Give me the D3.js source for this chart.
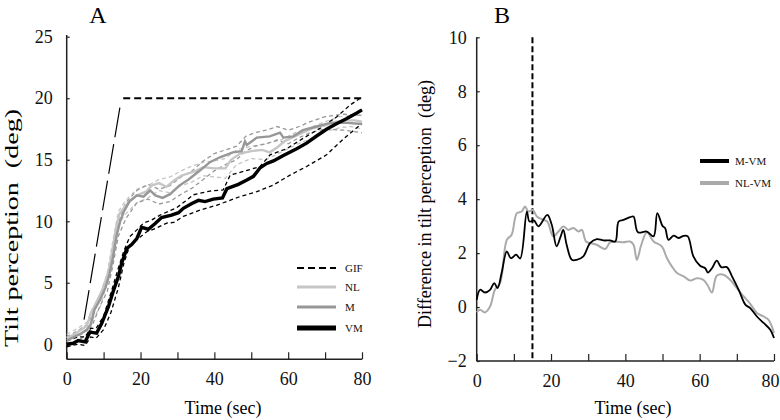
<!DOCTYPE html>
<html>
<head>
<meta charset="utf-8">
<script src="https://cdn.jsdelivr.net/npm/d3@7"></script>
<style>
  body { margin: 0; background: #fff; }
  svg { display: block; font-family: "Liberation Serif", "DejaVu Serif", serif; }
  svg text { font-family: "Liberation Serif", "DejaVu Serif", serif; }
</style>
</head>
<body>
<svg id="chart" width="780" height="420"></svg>
<script>
// ---------- DATA (panel A) ----------
const xTicksA = [0, 10, 20, 30, 40, 50, 60, 70, 80];
const xLabelsA = [0, 20, 40, 60, 80];
const yTicksA = [0, 5, 10, 15, 20, 25];

const gifRamp = [[4.7, 2.0], [14.5, 19.4]];
const gifFlat = [[15.3, 20], [80, 20]];

const nlMain = [[0,0.5],[2,0.8],[4,1.2],[5.5,1.5],[6.5,2.5],[8,3.4],[9.5,4.3],[10.8,5.4],[11.7,6.4],[12.5,7.9],[13.4,9.5],[14.3,10.6],[15.8,11.2],[17.2,11.7],[19,12.1],[21.5,12.4],[23,12.9],[25,13.1],[27,12.8],[29,13.3],[31,13.7],[33,13.9],[35,14.1],[37,14.4],[40,14.3],[43,14.3],[44.5,15.0],[47,15.5],[50,15.7],[53,15.8],[55,15.6],[57,16.0],[59,16.5],[61,16.8],[64,17.2],[67,17.6],[70,17.8],[73,18.1],[76,18.2],[78,18.2],[80,18.1]];
const nlUpper = [[0,0.8],[3,1.3],[5.5,1.8],[7,2.9],[9,4.0],[11,5.8],[12.5,8.4],[14,10.8],[16,11.7],[19,12.6],[22,12.9],[25,13.4],[28,13.6],[31,14.1],[34,14.5],[37,14.8],[40,14.9],[43,15.1],[46,15.8],[50,16.1],[54,16.3],[58,16.6],[62,17.2],[66,17.6],[70,18.1],[74,18.5],[77,18.6],[80,18.6]];
const nlLower = [[0,0.2],[3,0.6],[5.5,1.1],[7,2.0],[9,3.0],[11,5.0],[12.5,7.2],[14,9.8],[16,10.6],[19,11.5],[22,11.9],[25,12.5],[28,12.3],[31,12.9],[34,13.2],[37,13.7],[40,13.6],[43,13.5],[46,14.6],[50,15.1],[54,15.0],[58,15.6],[62,16.2],[66,16.7],[70,17.3],[74,17.6],[77,17.7],[80,17.5]];

const mMain = [[0,0.3],[2,0.6],[4,0.9],[5.5,1.2],[6.5,1.6],[7.5,2.8],[9,3.6],[10.5,4.6],[11.5,5.6],[12.5,7.0],[13.5,8.8],[14.5,10.0],[15.5,10.8],[17,11.6],[19,12.1],[20.8,12.0],[22.6,12.5],[24,12.1],[26,11.9],[28,12.2],[30.5,12.9],[33,13.4],[36,14.1],[38.8,14.8],[41.5,15.2],[45,15.6],[47.4,15.7],[48.3,16.5],[48.8,16.2],[51.5,16.8],[55,16.9],[57.8,17.2],[58.7,16.8],[61.4,16.9],[64,17.4],[67.7,17.7],[71.4,18.0],[76,18.0],[80,17.9]];
const mUpper = [[0,0.6],[3,1.1],[5.5,1.6],[7,2.4],[9,4.0],[11,5.3],[12.5,7.5],[14,9.9],[16,11.5],[19,12.5],[22,13.0],[25,12.6],[28,12.9],[31,13.6],[34,14.1],[37,14.9],[40,15.5],[43,15.8],[46,16.1],[48.5,16.9],[51,17.2],[54,17.4],[57,17.7],[60,17.4],[63,17.7],[66,18.1],[70,18.5],[75,18.7],[80,18.6]];
const mLower = [[0,0.0],[3,0.3],[5.5,0.8],[7,1.6],[9,3.1],[11,4.3],[12.5,6.4],[14,8.8],[16,10.2],[19,11.5],[22,11.8],[25,11.4],[28,11.6],[31,12.2],[34,12.7],[37,13.4],[40,14.1],[43,14.6],[46,15.0],[48.5,15.7],[51,16.1],[54,16.3],[57,16.6],[60,16.3],[63,16.8],[66,17.2],[70,17.5],[75,17.4],[80,17.2]];

const vmMain = [[0,0],[1.8,0.08],[3.1,0.3],[5,0.2],[6.3,1.0],[7.2,0.95],[8.1,0.9],[9.5,1.7],[11.3,3.06],[12.6,4.3],[14,5.5],[14.9,6.6],[16.3,7.8],[17.6,8.1],[19,8.6],[20.3,9.5],[22.1,9.35],[23.9,9.8],[25.7,10.3],[28.4,10.5],[30.3,10.7],[31.6,11.05],[33.9,11.45],[35.7,11.7],[37.5,11.6],[39.7,11.8],[42.2,11.9],[43.4,12.65],[46.5,13.0],[48.8,13.35],[50.6,13.65],[52.4,14.35],[54.2,14.7],[56,14.9],[58.7,15.35],[62.3,15.9],[65,16.35],[67.8,16.95],[70.5,17.5],[73.2,17.95],[75.9,18.35],[78.6,18.8],[80,19.05]];
const vmUpper = [[0,0.3],[3,0.6],[5,0.6],[6.5,1.3],[8,1.3],[10,2.3],[12,4.2],[14,6.2],[15.5,7.6],[17.1,8.75],[19,9.3],[20.8,9.85],[23,10.1],[25.3,10.5],[27.5,10.8],[29.8,11.1],[32,11.6],[34.3,12.15],[38.8,12.45],[42.4,12.55],[44.3,13.75],[47.9,14.05],[52.4,14.45],[55.1,15.4],[59.6,15.9],[64.1,16.75],[68.6,17.55],[73.2,18.5],[76.8,19.45],[80,20.1]];
const vmLower = [[0,-0.2],[3,0.0],[5,-0.1],[6.5,0.6],[8,0.5],[10,1.2],[12,2.6],[14,4.6],[15.5,6.6],[17.1,8.05],[19,8.5],[21.7,9.15],[24,9.4],[27.1,9.85],[29,9.9],[31.6,10.4],[36.1,10.9],[40.6,11.3],[43.3,11.6],[46.9,12.0],[51.5,12.4],[56,12.95],[60.5,13.75],[65,14.45],[70.4,15.4],[75,16.7],[80,17.95]];

const legendA = ["GIF", "NL", "M", "VM"];

// ---------- DATA (panel B) ----------
const xTicksB = [0, 10, 20, 30, 40, 50, 60, 70, 80];
const xLabelsB = [0, 20, 40, 60, 80];
const yTicksB = [-2, 0, 2, 4, 6, 8, 10];
const stimEnd = 15;

const mvm = [[0,0.27],[0.9,0.64],[2.2,0.54],[3.6,0.64],[4.7,0.89],[5.6,0.7],[6.7,1.26],[8.1,2.06],[9.2,1.81],[10.6,1.94],[11.7,1.8],[13.5,3.54],[14.2,3.17],[15.4,3.21],[16.6,2.99],[19.0,3.42],[20.2,3.05],[21.5,2.25],[22.6,2.62],[23.3,2.86],[24.2,2.31],[25.6,1.75],[26.9,1.75],[28.7,1.88],[30.5,2.37],[32.3,2.52],[34.1,2.47],[35.9,2.47],[37.3,2.43],[38.2,3.17],[39.5,3.23],[41.3,3.33],[42.2,3.36],[43.4,2.77],[45.8,2.80],[47.6,2.62],[48.6,3.48],[50.0,3.01],[50.7,2.93],[51.6,2.49],[53.0,2.65],[54.3,2.56],[55.7,2.64],[56.8,2.62],[58.3,1.88],[60.1,1.53],[61.5,1.44],[62.2,1.28],[63.3,1.44],[64.6,1.72],[65.8,1.48],[67.3,1.48],[68.7,1.14],[70.5,0.64],[72.3,0.09],[73.6,-0.04],[75.4,-0.35],[77.2,-0.59],[79.0,-0.84],[80,-1.15]];
const nlvm = [[0,-0.2],[0.9,-0.1],[2.2,-0.2],[3.6,0.02],[4.9,0.64],[6.3,0.89],[8.1,2.49],[9.4,2.68],[10.8,3.48],[12.1,3.54],[13.0,3.73],[13.9,3.54],[15.1,3.6],[16.2,3.36],[18.0,3.23],[19.0,3.17],[20.6,2.62],[22.0,2.80],[23.3,2.99],[24.7,2.86],[26.0,2.93],[27.4,2.80],[28.3,2.86],[29.4,2.43],[30.5,2.37],[32.3,2.31],[34.6,2.15],[35.9,2.4],[37.7,2.42],[39.5,2.4],[41.3,2.43],[42.2,2.31],[43.1,1.75],[44.3,2.31],[45.8,2.77],[47.6,2.43],[49.8,2.25],[51.2,1.81],[52.5,1.51],[53.9,1.26],[55.7,1.14],[57.5,0.98],[59.2,1.07],[61.0,1.01],[62.2,0.79],[63.3,0.54],[64.6,1.16],[66.4,1.2],[68.2,1.01],[70.0,0.7],[71.8,0.4],[73.6,0.12],[75.4,-0.22],[77.2,-0.35],[78.5,-0.47],[80,-0.96]];

const legendB = ["M-VM", "NL-VM"];

// ---------- DRAW ----------
const svg = d3.select("#chart");
const LIGHT = "#c6c6c6", MID = "#979797", BLACK = "#000";
const SERIF = "'Liberation Serif', 'DejaVu Serif', serif";

// Panel A scales
const xA = d3.scaleLinear().domain([0, 80]).range([66.7, 362]);
const yA = d3.scaleLinear().domain([-1.22, 25]).range([359.3, 36.7]);
const lineA = d3.line().x(d => xA(d[0])).y(d => yA(d[1]));

function styleAxis(g) {
  g.attr("font-family", SERIF).attr("font-size", 18);
  g.select(".domain").attr("stroke", "#222").attr("stroke-width", 1.5);
  g.selectAll(".tick line").attr("stroke", "#222").attr("stroke-width", 1.2);
  g.selectAll(".tick text").attr("fill", "#111").style("font-size", "18px")
    .style("font-family", SERIF);
}

// axes A
const gxA = svg.append("g").attr("transform", `translate(0,${yA(-1.22)})`)
  .call(d3.axisBottom(xA).tickValues(xTicksA).tickSize(-7).tickPadding(13)
    .tickFormat(d => xLabelsA.includes(d) ? d : ""));
styleAxis(gxA);
gxA.select(".domain").attr("d", `M${xA(0)},0H${xA(80)}`);

const gyA = svg.append("g").attr("transform", `translate(${xA(0)},0)`)
  .call(d3.axisLeft(yA).tickValues(yTicksA).tickSize(-3).tickPadding(14));
styleAxis(gyA);
gyA.select(".domain").attr("d", `M0,${yA(-1.22)}V35`);

// bands
function band(data, color) {
  svg.append("path").datum(data).attr("d", lineA).attr("fill", "none")
    .attr("stroke", color).attr("stroke-width", 1.3).attr("stroke-dasharray", "4,3");
}
band(nlUpper, LIGHT); band(nlLower, LIGHT);
band(mUpper, MID); band(mLower, MID);
band(vmUpper, BLACK); band(vmLower, BLACK);

// main lines
svg.append("path").datum(nlMain).attr("d", lineA).attr("fill", "none")
  .attr("stroke", LIGHT).attr("stroke-width", 2.4);
svg.append("path").datum(mMain).attr("d", lineA).attr("fill", "none")
  .attr("stroke", MID).attr("stroke-width", 2.4);
svg.append("path").datum(vmMain).attr("d", lineA).attr("fill", "none")
  .attr("stroke", BLACK).attr("stroke-width", 3.4);

// GIF
svg.append("path").datum(gifRamp).attr("d", lineA).attr("fill", "none")
  .attr("stroke", BLACK).attr("stroke-width", 1.2).attr("stroke-dasharray", "30,7");
svg.append("path").datum(gifFlat).attr("d", lineA).attr("fill", "none")
  .attr("stroke", BLACK).attr("stroke-width", 2).attr("stroke-dasharray", "7,4");

// legend A
const legA = [
  { name: legendA[0], color: BLACK, w: 2, dash: "7,4" },
  { name: legendA[1], color: LIGHT, w: 3, dash: null },
  { name: legendA[2], color: MID, w: 3, dash: null },
  { name: legendA[3], color: BLACK, w: 5, dash: null }
];
const legAY = [268, 287, 307, 328];
legA.forEach((d, i) => {
  svg.append("line").attr("x1", 297).attr("x2", 336).attr("y1", legAY[i]).attr("y2", legAY[i])
    .attr("stroke", d.color).attr("stroke-width", d.w).attr("stroke-dasharray", d.dash);
  svg.append("text").attr("x", 345).attr("y", legAY[i] + 4).text(d.name)
    .style("font-size", "11px").attr("fill", "#111");
});

// titles A
svg.append("text").attr("x", 98).attr("y", 23).attr("text-anchor", "middle")
  .style("font-size", "24px").text("A");
svg.append("text").attr("x", 223).attr("y", 414).attr("text-anchor", "middle")
  .style("font-size", "18px").text("Time (sec)");
svg.append("text").attr("transform", "translate(18,228) rotate(-90)")
  .attr("text-anchor", "middle").style("font-size", "19px")
  .attr("textLength", 238).attr("lengthAdjust", "spacingAndGlyphs")
  .text("Tilt perception\u00a0 (deg)");

// Panel B scales
const xB = d3.scaleLinear().domain([0, 80]).range([476.7, 774]);
const yB = d3.scaleLinear().domain([-2, 10]).range([361, 37.3]);
const lineB = d3.line().x(d => xB(d[0])).y(d => yB(d[1])).curve(d3.curveCatmullRom.alpha(0.5));

const gxB = svg.append("g").attr("transform", `translate(0,${yB(-2)})`)
  .call(d3.axisBottom(xB).tickValues(xTicksB).tickSize(-7).tickPadding(13)
    .tickFormat(d => xLabelsB.includes(d) ? d : ""));
styleAxis(gxB);
gxB.select(".domain").attr("d", `M${xB(0)},0H${xB(80)}`);
// keep the last label inside the window
gxB.selectAll(".tick text").filter(d => d === 80)
  .attr("text-anchor", "end").attr("x", 5);

const gyB = svg.append("g").attr("transform", `translate(${xB(0)},0)`)
  .call(d3.axisLeft(yB).tickValues(yTicksB).tickSize(-3).tickPadding(10));
styleAxis(gyB);
gyB.select(".domain").attr("d", `M0,${yB(-2)}V${yB(10)}`);

// stimulus end line
svg.append("line").attr("x1", xB(stimEnd)).attr("x2", xB(stimEnd))
  .attr("y1", yB(10)).attr("y2", yB(-2))
  .attr("stroke", BLACK).attr("stroke-width", 2).attr("stroke-dasharray", "6,3");

svg.append("path").datum(nlvm).attr("d", lineB).attr("fill", "none")
  .attr("stroke", "#aaaaaa").attr("stroke-width", 2);
svg.append("path").datum(mvm).attr("d", lineB).attr("fill", "none")
  .attr("stroke", BLACK).attr("stroke-width", 1.8);

// legend B
const legB = [{ name: legendB[0], color: BLACK }, { name: legendB[1], color: "#aaaaaa" }];
const legBY = [161, 183];
legB.forEach((d, i) => {
  svg.append("line").attr("x1", 700).attr("x2", 729).attr("y1", legBY[i]).attr("y2", legBY[i])
    .attr("stroke", d.color).attr("stroke-width", 4);
  svg.append("text").attr("x", 735).attr("y", legBY[i] + 4).text(d.name)
    .style("font-size", "11px").attr("fill", "#111");
});

svg.append("text").attr("x", 502).attr("y", 23).attr("text-anchor", "middle")
  .style("font-size", "24px").text("B");
svg.append("text").attr("x", 633).attr("y", 414).attr("text-anchor", "middle")
  .style("font-size", "18px").text("Time (sec)");
svg.append("text").attr("transform", "translate(431,204) rotate(-90)")
  .attr("text-anchor", "middle").style("font-size", "18px")
  .attr("textLength", 248).attr("lengthAdjust", "spacingAndGlyphs")
  .text("Difference in tilt perception\u00a0 (deg)");
</script>
</body>
</html>
